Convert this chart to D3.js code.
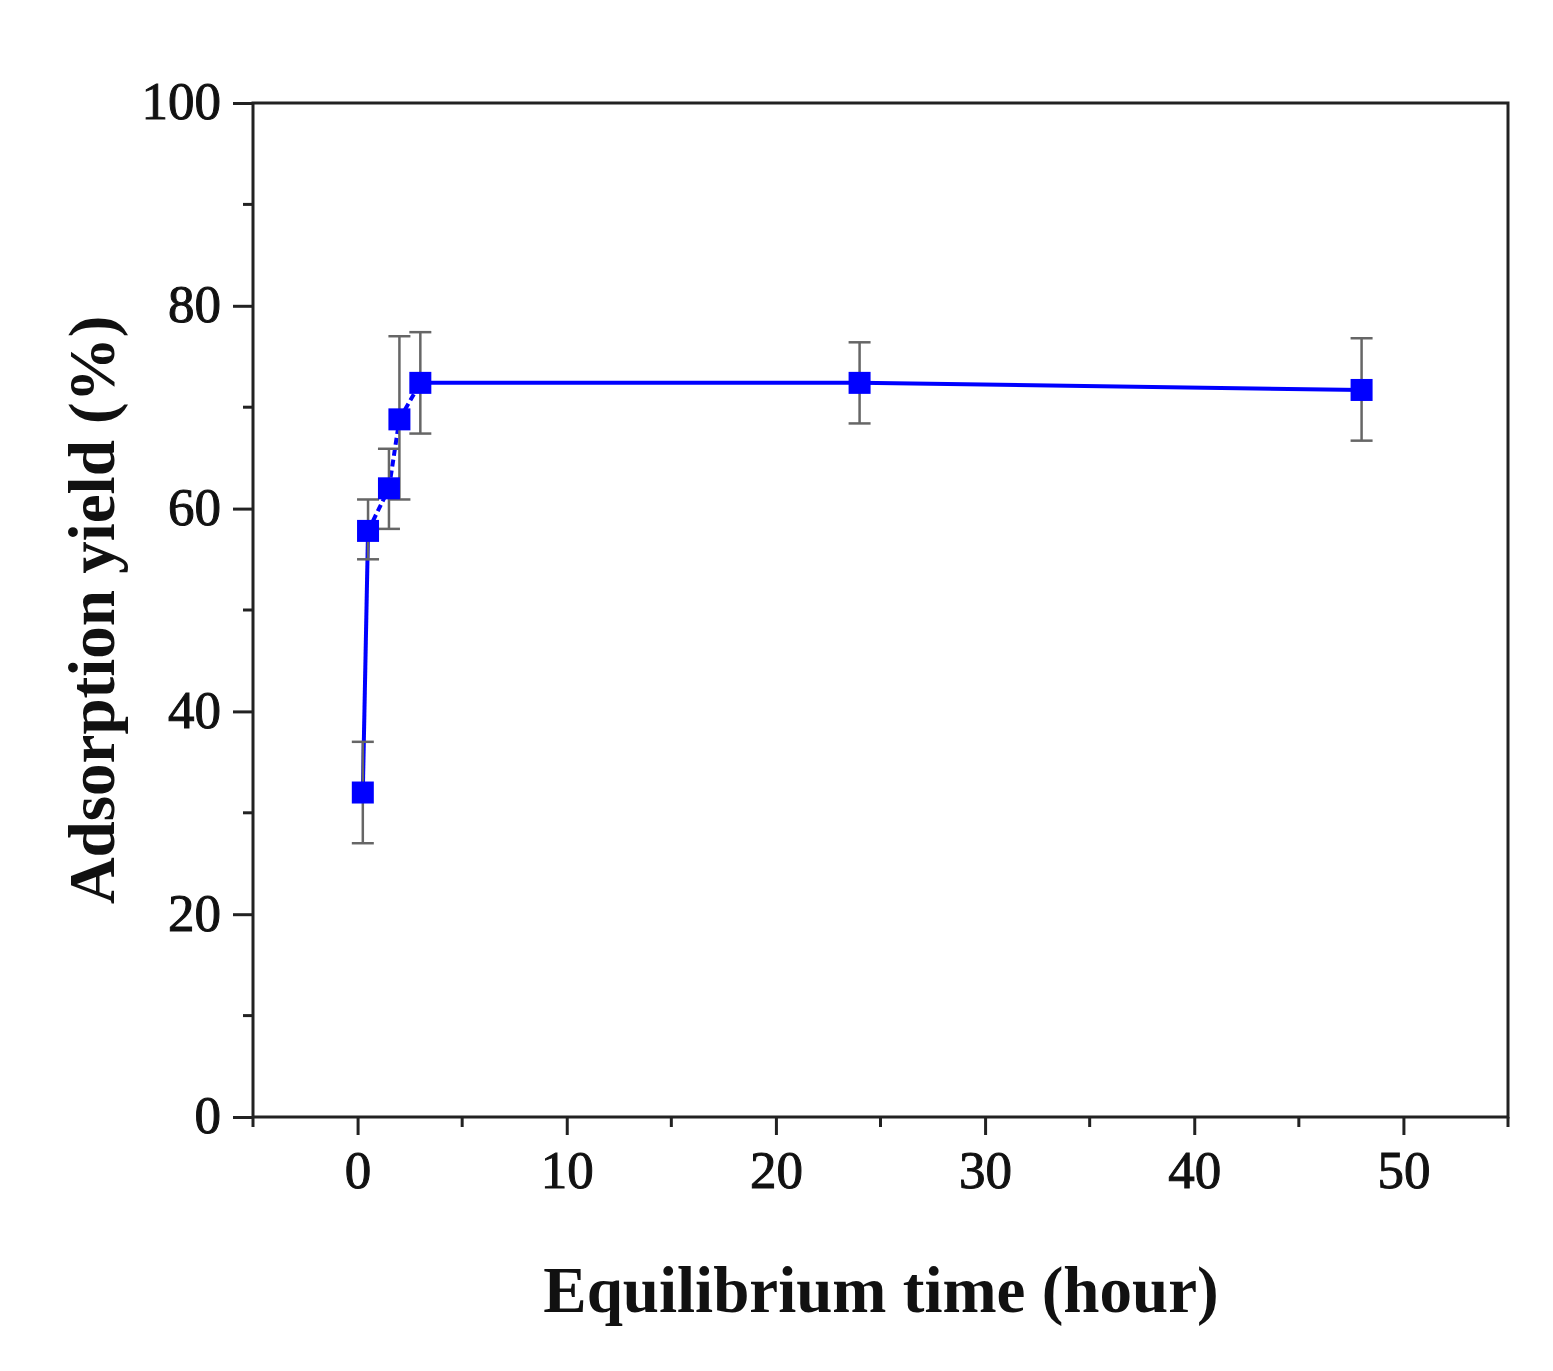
<!DOCTYPE html>
<html>
<head>
<meta charset="utf-8">
<script src="https://cdn.jsdelivr.net/npm/d3@7"></script>
<style>
  body { margin: 0; background: #fff; }
  svg text { font-family: "Liberation Serif", "Times New Roman", serif; }
</style>
</head>
<body>
<div id="chart"></div>
<script>
// data
const hours = [0.25, 0.5, 1.5, 2, 3, 24, 48];
const yieldPct = [32, 57.8, 62, 68.8, 72.4, 72.4, 71.7];
const errLow = [27, 55, 58, 60.9, 67.4, 68.4, 66.7];
const errHigh = [37, 60.9, 65.9, 77, 77.4, 76.4, 76.8];

const xTicks = [0, 10, 20, 30, 40, 50];
const xMinor = [-5, 5, 15, 25, 35, 45, 55];
const yTicks = [0, 20, 40, 60, 80, 100];
const yMinor = [10, 30, 50, 70, 90];

const xTitle = "Equilibrium time (hour)";
const yTitle = "Adsorption yield (%)";

const points = hours.map((h, i) => ({ h, v: yieldPct[i], lo: errLow[i], hi: errHigh[i] }));

// dimensions
const width = 1553, height = 1371;
const plot = { left: 253, right: 1508, top: 103, bottom: 1117 };

const x = d3.scaleLinear().domain([-5, 55]).range([plot.left, plot.right]);
const y = d3.scaleLinear().domain([0, 100]).range([plot.bottom, plot.top]);

const svg = d3.select("#chart").append("svg")
  .attr("width", width).attr("height", height);

// frame
svg.append("rect")
  .attr("x", plot.left).attr("y", plot.top)
  .attr("width", plot.right - plot.left).attr("height", plot.bottom - plot.top)
  .attr("fill", "none").attr("stroke", "#222").attr("stroke-width", 3);

// y axis
const yAxis = svg.append("g").attr("transform", `translate(${plot.left},0)`)
  .call(d3.axisLeft(y).tickValues(yTicks).tickSize(20).tickPadding(12));
yAxis.select(".domain").remove();
yAxis.selectAll("line").attr("stroke", "#222").attr("stroke-width", 3);
yAxis.selectAll("text")
  .attr("font-size", 53).attr("fill", "#111")
  .attr("stroke", "#111").attr("stroke-width", 1)
  .attr("font-family", "Liberation Serif")
  .attr("dy", "0.30em");

svg.append("g").selectAll("line.yminor")
  .data(yMinor).join("line")
  .attr("x1", plot.left - 10).attr("x2", plot.left)
  .attr("y1", d => y(d)).attr("y2", d => y(d))
  .attr("stroke", "#222").attr("stroke-width", 3);

// x axis
const xAxis = svg.append("g").attr("transform", `translate(0,${plot.bottom})`)
  .call(d3.axisBottom(x).tickValues(xTicks).tickSize(18).tickPadding(14));
xAxis.select(".domain").remove();
xAxis.selectAll("line").attr("stroke", "#222").attr("stroke-width", 3);
xAxis.selectAll("text")
  .attr("font-size", 53).attr("fill", "#111")
  .attr("stroke", "#111").attr("stroke-width", 1)
  .attr("font-family", "Liberation Serif")
  .attr("dy", "0.74em");

svg.append("g").selectAll("line.xminor")
  .data(xMinor).join("line")
  .attr("x1", d => x(d)).attr("x2", d => x(d))
  .attr("y1", plot.bottom).attr("y2", plot.bottom + 10)
  .attr("stroke", "#222").attr("stroke-width", 3);

// line segments (early ones dashed)
const seg = svg.append("g");
for (let i = 0; i < points.length - 1; i++) {
  const a = points[i], b = points[i + 1];
  seg.append("line")
    .attr("x1", x(a.h)).attr("y1", y(a.v))
    .attr("x2", x(b.h)).attr("y2", y(b.v))
    .attr("stroke", "#0000ff").attr("stroke-width", 4)
    .attr("stroke-dasharray", (i >= 1 && i <= 3) ? "7,4" : null);
}

// error bars
const eb = svg.append("g").selectAll("g").data(points).join("g")
  .attr("stroke", "#666").attr("stroke-width", 2.5);
eb.append("line")
  .attr("x1", d => x(d.h)).attr("x2", d => x(d.h))
  .attr("y1", d => y(d.lo)).attr("y2", d => y(d.hi));
eb.append("line")
  .attr("x1", d => x(d.h) - 11).attr("x2", d => x(d.h) + 11)
  .attr("y1", d => y(d.hi)).attr("y2", d => y(d.hi));
eb.append("line")
  .attr("x1", d => x(d.h) - 11).attr("x2", d => x(d.h) + 11)
  .attr("y1", d => y(d.lo)).attr("y2", d => y(d.lo));

// markers
svg.append("g").selectAll("rect").data(points).join("rect")
  .attr("x", d => x(d.h) - 11).attr("y", d => y(d.v) - 11)
  .attr("width", 22).attr("height", 22)
  .attr("fill", "#0000ff");

// titles
svg.append("text")
  .attr("x", 881).attr("y", 1312)
  .attr("text-anchor", "middle")
  .attr("font-size", 65).attr("font-weight", "bold").attr("fill", "#111")
  .text(xTitle);

svg.append("text")
  .attr("transform", `translate(114,${(315 + 905) / 2}) rotate(-90)`)
  .attr("text-anchor", "middle")
  .attr("font-size", 65).attr("font-weight", "bold").attr("fill", "#111")
  .text(yTitle);
</script>
</body>
</html>
